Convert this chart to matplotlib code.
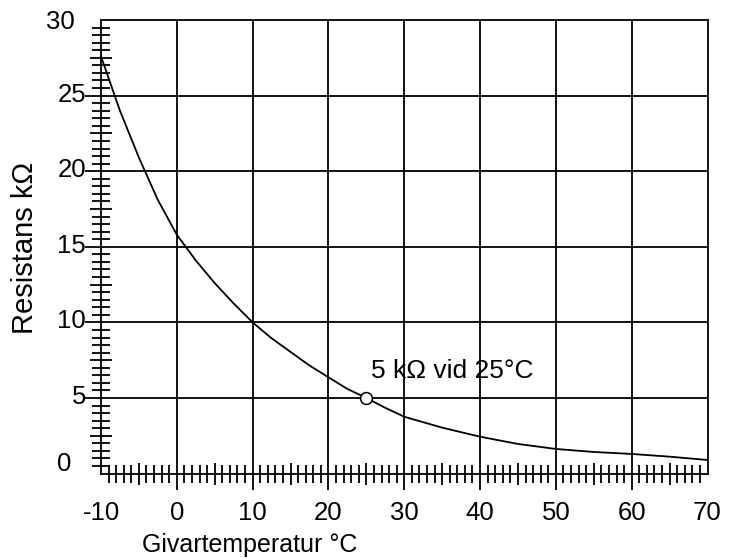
import matplotlib
matplotlib.use("Agg")
import matplotlib.pyplot as plt
import numpy as np

plt.rcParams['font.family'] = ['Liberation Sans', 'DejaVu Sans']

# Data
temps = [-10, -7.5, -5, -2.5, 0, 2.5, 5, 7.5, 10, 12.5, 15, 17.5, 20, 22.5, 25,
         27.5, 30, 35, 40, 45, 50, 55, 60, 65, 70]
resist = [27.6, 24.0, 20.9, 18.1, 15.8, 14.1, 12.6, 11.25, 10.0, 8.95, 8.05, 7.15,
          6.37, 5.6, 5.0, 4.35, 3.76, 3.04, 2.44, 1.96, 1.63, 1.43, 1.30, 1.12, 0.90]
ref_temp = [25]
ref_res = [5]
ref_label = "5 k\u03a9 vid 25\u00b0C"

x_ticklabels = ["-10", "0", "10", "20", "30", "40", "50", "60", "70"]
x_tickvals = [-10, 0, 10, 20, 30, 40, 50, 60, 70]
y_tickvals = [0, 5, 10, 15, 20, 25, 30]
y_ticklabels = ["0", "5", "10", "15", "20", "25", "30"]
xlabel = "Givartemperatur \u00b0C"
ylabel = "Resistans k\u03a9"

W, H = 741, 558
fig = plt.figure(figsize=(W / 100, H / 100), dpi=100)
left_px, right_px, top_px, bottom_px = 101, 707.5, 20, 473.6
ax = fig.add_axes([left_px / W, (H - bottom_px) / H,
                   (right_px - left_px) / W, (bottom_px - top_px) / H])
ax.set_xlim(-10, 70)
ax.set_ylim(0, 30)

lw = 1.3
for s in ax.spines.values():
    s.set_linewidth(lw)
    s.set_color('black')

# grid lines extending beyond the axes
ax.vlines([v for v in x_tickvals if -10 < v < 70], -1.1, 30, colors='black',
          linewidth=lw, clip_on=False, zorder=2)
ax.hlines([v for v in y_tickvals if 0 < v < 30], -12.1, 70, colors='black',
          linewidth=lw, clip_on=False, zorder=2)

# ticks
x_major = [v for v in range(-9, 70) if v % 5 == 0 and v % 10 != 0]
x_minor = [v for v in range(-9, 70) if v % 5 != 0]
y_major = [k * 0.5 for k in range(1, 60) if k % 5 == 0 and k % 10 != 0]
y_minor = [k * 0.5 for k in range(1, 60) if k % 5 != 0]
ax.set_xticks(x_major)
ax.set_xticks(x_minor, minor=True)
ax.set_yticks(y_major)
ax.set_yticks(y_minor, minor=True)
ax.tick_params(which='major', direction='inout', length=16, width=lw,
               labelbottom=False, labelleft=False)
ax.tick_params(which='minor', direction='inout', length=13, width=lw)

# tick labels
fs = 18.5
for v, lab in zip(x_tickvals, x_ticklabels):
    ax.annotate(lab, xy=(v, 0), xytext=(0, -39), textcoords='offset pixels',
                ha='center', va='center', fontsize=fs, annotation_clip=False)
for v, lab in zip(y_tickvals, y_ticklabels):
    dx, dy = -15, 1
    if v == 30:
        dx, dy = -26, -2
    elif v == 0:
        dx, dy = -30, 10
    ax.annotate(lab, xy=(-10, v), xytext=(dx, dy), textcoords='offset pixels',
                ha='right', va='center', fontsize=fs, annotation_clip=False)

fig.text(250 / W, 1 - 545 / H, xlabel, ha='center', va='center', fontsize=18)
fig.text(25 / W, 1 - 248 / H, ylabel, ha='center', va='center', fontsize=21,
         rotation=90)

# curve
ax.plot(temps, resist, color='black', linewidth=1.3, zorder=3, clip_on=False)
ax.plot(ref_temp, ref_res, marker='o', markersize=8.5, markerfacecolor='white',
        markeredgecolor='black', markeredgewidth=1.1, linestyle='none', zorder=4)
ax.annotate(ref_label, xy=(ref_temp[0], ref_res[0]), xytext=(5, 27),
            textcoords='offset pixels', ha='left', va='center', fontsize=19)

fig.savefig("out.png", dpi=100)
